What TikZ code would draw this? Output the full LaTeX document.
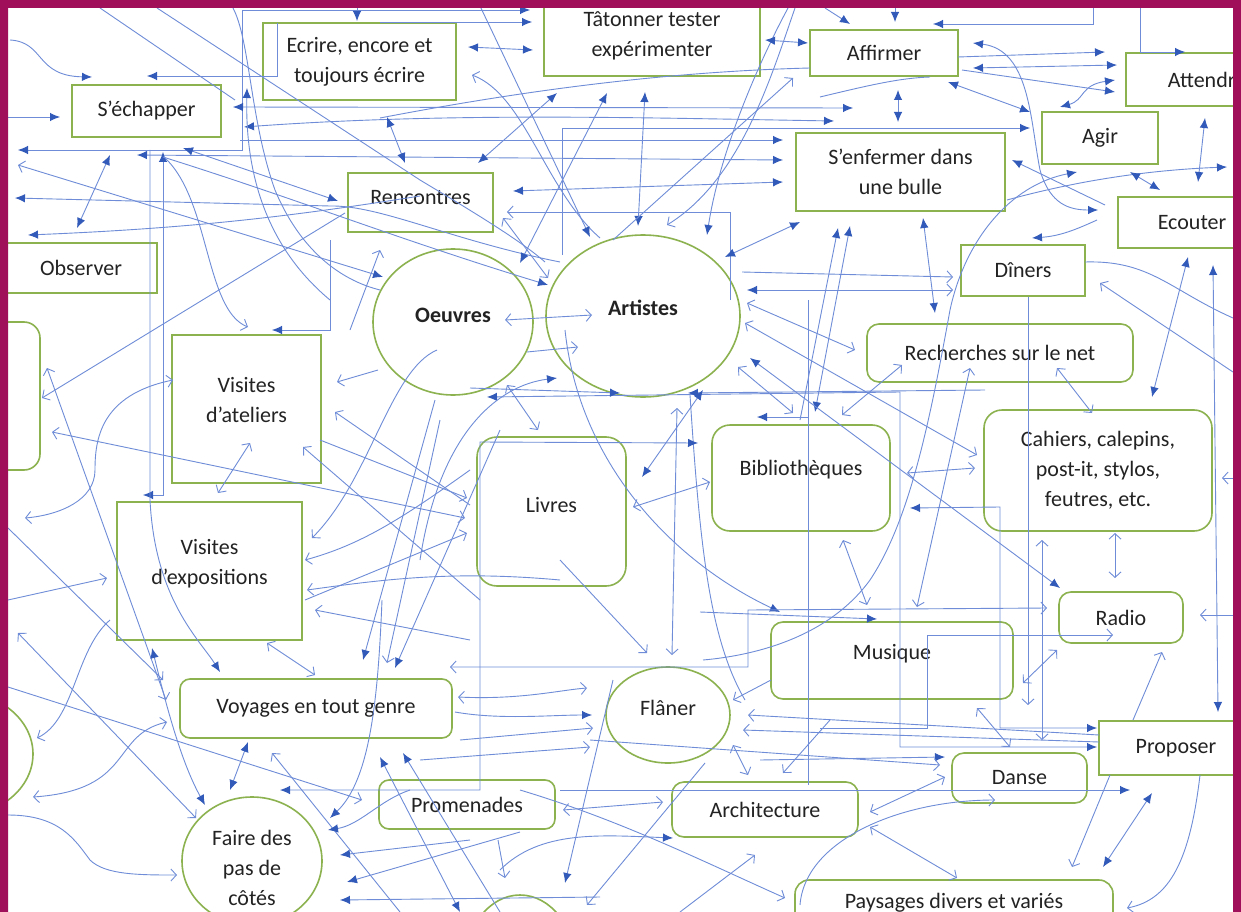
\documentclass[tikz,border=0pt]{standalone}
\usepackage{fontspec}
\setmainfont{Carlito}
\usetikzlibrary{arrows.meta,shapes.geometric}
\definecolor{frame}{RGB}{160,16,90}
\definecolor{gbox}{RGB}{140,178,80}
\definecolor{lb}{RGB}{110,140,215}
\definecolor{ab}{RGB}{50,90,185}
\definecolor{txt}{RGB}{35,35,35}
\newcommand\fs{\fontsize{22}{30}\selectfont}
\tikzset{
  box/.style={draw=gbox, line width=1.6pt, font=\fs, text=txt, align=center, inner sep=0pt},
  rbox/.style={box, rounded corners=#1}, rbox/.default=12pt,
  ell/.style={box, ellipse},
  lab/.style={font=\fs, text=txt, align=center, inner sep=0pt},
  cn/.style={draw=lb, line width=0.9pt},
  fa/.tip={Latex[length=10pt,width=8.5pt,color=ab]},
  oa/.tip={Straight Barb[length=5.5pt,width=12pt,color=lb]},
  cf/.style={cn,-fa}, cff/.style={cn,fa-fa}, co/.style={cn,-oa}, coo/.style={cn,oa-oa},
  cof/.style={cn,oa-fa}, cfo/.style={cn,fa-oa}, cl/.style={cn}
}
\begin{document}
\begin{tikzpicture}[x=1pt,y=-1pt]
\useasboundingbox (0,0) rectangle (1241,912);
\clip (0,0) rectangle (1241,912);
\fill[white] (0,0) rectangle (1241,912);
% nodes
\node[box,minimum width=193,minimum height=77] (ecrire) at (359.5,61.5) {Ecrire, encore et\\toujours écrire};
\node[box,minimum width=216,minimum height=80] (tat) at (652,36) {Tâtonner tester\\expérimenter};
\node[box,minimum width=148,minimum height=46] (aff) at (884,53) {Affirmer};
\node[box,minimum width=162,minimum height=53] (att) at (1207,79.5) {Attendre};
\node[box,minimum width=149,minimum height=52] (ech) at (146.5,111) {S’échapper};
\node[box,minimum width=116,minimum height=52] (agir) at (1100,138) {Agir};
\node[box,minimum width=209,minimum height=78] (enf) at (900.5,172) {S’enfermer dans\\une bulle};
\node[box,minimum width=145,minimum height=59,label={[lab,yshift=5pt]center:Rencontres}] (renc) at (420.5,202.5) {};
\node[box,minimum width=148,minimum height=51] (ecou) at (1192,222.5) {Ecouter};
\node[box,minimum width=152,minimum height=50] (obs) at (81,268) {Observer};
\node[box,minimum width=124,minimum height=51] (din) at (1023,270.5) {Dîners};
\node[ell,minimum width=160,minimum height=146,label={[lab,yshift=7pt]center:\textbf{Oeuvres}}] (oeu) at (453,322) {};
\node[ell,minimum width=194,minimum height=162,label={[lab,yshift=8pt]center:\textbf{Artistes}}] (art) at (643,316) {};
\node[rbox,minimum width=266,minimum height=58] (rech) at (1000,353) {Recherches sur le net};
\node[rbox=16pt,minimum width=90,minimum height=148] (left) at (-5,396) {};
\node[box,minimum width=149,minimum height=148,label={[lab,yshift=9pt]center:Visites\\d’ateliers}] (atel) at (246.5,409) {};
\node[box,minimum width=185,minimum height=138,label={[lab,yshift=7pt]center:Visites\\d’expositions}] (expo) at (209.5,571) {};
\node[rbox=20pt,minimum width=149,minimum height=149,label={[lab,yshift=6pt]center:Livres}] (livr) at (551.5,511.5) {};
\node[rbox=18pt,minimum width=178,minimum height=106,label={[lab,yshift=8pt]center:Bibliothèques}] (bibl) at (801,478) {};
\node[rbox=18pt,minimum width=228,minimum height=121] (cah) at (1098,470.5) {Cahiers, calepins,\\post-it, stylos,\\feutres, etc.};
\node[rbox,minimum width=124,minimum height=51] (radio) at (1121,617.5) {Radio};
\node[rbox,minimum width=242,minimum height=77,label={[lab,yshift=7pt]center:Musique}] (mus) at (892,660.5) {};
\node[ell,minimum width=124,minimum height=96,label={[lab,yshift=7pt]center:Flâner}] (fla) at (668,715) {};
\node[rbox=10pt,minimum width=272,minimum height=59] (voy) at (316,708.5) {Voyages en tout genre};
\node[box,minimum width=154,minimum height=54] (prop) at (1176,748) {Proposer};
\node[rbox,minimum width=135,minimum height=50] (danse) at (1019.5,778) {Danse};
\node[rbox=10pt,minimum width=176,minimum height=49] (prom) at (467,804.5) {Promenades};
\node[rbox,minimum width=186,minimum height=55] (arch) at (765,809.5) {Architecture};
\node[ell,minimum width=140,minimum height=128,label={[lab,yshift=-7pt]center:Faire des\\pas de\\côtés}] (faire) at (252,861) {};
\node[rbox=14pt,minimum width=318,minimum height=60,label={[lab,yshift=7pt]center:Paysages divers et variés}] (pays) at (954,910) {};
\node[ell,minimum width=110,minimum height=140] (bot) at (520,965) {};
\node[ell,minimum width=150,minimum height=124] (lcirc) at (-42,754) {};
% connectors, top
\draw[cff] (18,150) -- (242,150) -- (242,10) -- (530,10);
\draw[cf] (357,6) -- (357,21);
\draw[cf] (380,22) -- (532,22);
\draw[cff] (468,47) -- (533,50);
\draw[co] (600,238) .. controls (545,190) and (525,95) .. (472,75);
\draw[cf] (277,23) -- (277,76) -- (147,76);
\draw[cf] (10,40) .. controls (45,42) and (35,76) .. (92,77);
\draw[cf] (8,117) -- (60,117);
\draw[cff] (233,107) -- (853,108);
\draw[cff] (244,127) .. controls (450,112) and (650,118) .. (834,121);
\draw[cf] (562,255) -- (562,128) -- (1030,128);
\draw[cff] (110,155) -- (77,228);
\draw[cff] (183,148) -- (338,201);
\draw[cof] (18,165) -- (383,277);
\draw[cf] (560,262) .. controls (450,240) and (380,205) .. (330,206) -- (15,198);
\draw[cf] (420,196) .. controls (300,215) and (200,228) .. (28,235);
\draw[cff] (137,155) -- (783,160);
\draw[cff] (163,152) -- (163,495) -- (143,495);
\draw[cf] (150,150) -- (150,500) .. controls (155,600) and (200,640) .. (220,672);
\draw[co] (165,158) .. controls (210,200) and (205,310) .. (248,327);
\draw[cf] (330,240) -- (330,330) -- (272,330);
\draw[cf] (163,157) .. controls (300,200) and (400,240) .. (548,285);
\draw[cl] (100,8) -- (235,100);
\draw[cl] (157,8) -- (420,180) .. controls (470,210) and (520,240) .. (545,262);
\draw[cf] (330,300) .. controls (270,250) and (245,180) .. (247,88);
\draw[cl] (233,8) .. controls (250,40) and (250,120) .. (275,190) .. controls (300,250) and (340,280) .. (380,290);
\draw[co] (350,330) -- (380,250);
\draw[cff] (387,117) -- (405,163);
\draw[cff] (557,93) -- (478,163);
\draw[cff] (607,93) -- (520,263);
\draw[cff] (645,92) -- (638,226);
\draw[cf] (788,8) .. controls (760,60) and (720,150) .. (707,235);
\draw[co] (795,8) .. controls (770,80) and (740,180) .. (667,225);
\draw[co] (613,240) -- (793,78);
\draw[cff] (765,40) -- (808,43);
\draw[cl] (380,118) .. controls (500,95) and (650,72) .. (810,68);
\draw[cl] (820,97) .. controls (870,85) and (900,78) .. (930,77);
\draw[cf] (825,8) -- (850,24);
\draw[cf] (895,6) -- (895,22);
\draw[cf] (1093,6) -- (1093,24) -- (933,24);
\draw[cf] (1140,6) -- (1140,52) -- (1185,52);
\draw[cff] (973,43) .. controls (1030,50) and (1030,120) .. (1040,170) .. controls (1050,205) and (1070,210) .. (1098,210);
\draw[cf] (958,57) -- (1105,52);
\draw[cff] (973,68) -- (1117,65);
\draw[cf] (962,70) -- (1115,92);
\draw[cff] (1060,107) .. controls (1085,100) and (1080,85) .. (1115,80);
\draw[cff] (948,82) -- (1030,112);
\draw[cff] (898,90) -- (898,122);
\draw[cf] (240,140) -- (783,140);
\draw[cff] (513,191) -- (783,182);
\draw[co] (730,300) -- (730,212) -- (507,212);
\draw[coo] (503,218) -- (548,278);
\draw[cff] (725,257) -- (800,222);
\draw[cfo] (747,290) -- (953,290);
\draw[co] (742,272) -- (953,277);
\draw[cf] (1105,205) -- (1012,160);
\draw[cf] (703,660) .. controls (760,655) and (830,635) .. (870,580) .. controls (910,520) and (930,420) .. (950,310) .. controls (965,240) and (1010,185) .. (1077,172);
\draw[cf] (1007,200) .. controls (1080,180) and (1150,170) .. (1227,167);
\draw[cff] (1130,172) -- (1160,190);
\draw[cff] (1205,118) -- (1198,182);
\draw[cf] (1097,220) .. controls (1075,230) and (1060,236) .. (1032,238);
\draw[cff] (1213,265) -- (1218,712);
\draw[cff] (1188,257) -- (1152,397);
\draw[cl] (1085,262) .. controls (1150,260) and (1170,290) .. (1233,318);
\draw[co] (1233,372) -- (1100,283);
\draw[cf] (800,420) -- (838,228);
\draw[cff] (850,226) -- (815,412);
\draw[cf] (808,417) -- (757,417);
\draw[cff] (923,218) -- (935,313);
% middle
\draw[cff] (487,397) -- (900,392) -- (900,747) -- (1097,747);
\draw[cf] (470,388) -- (620,393);
\draw[cf] (985,390) -- (688,393);
\draw[coo] (505,320) -- (592,315);
\draw[co] (527,352) -- (578,347);
\draw[co] (437,350) .. controls (390,370) and (370,480) .. (312,538);
\draw[cf] (420,560) .. controls (440,430) and (500,385) .. (557,378);
\draw[coo] (507,385) -- (538,430);
\draw[coo] (633,507) -- (710,482);
\draw[cff] (703,390) -- (642,477);
\draw[cf] (480,6) -- (590,237);
\draw[cf] (565,330) .. controls (580,470) and (680,565) .. (780,612);
\draw[cl] (690,395) .. controls (700,550) and (710,640) .. (745,700);
\draw[cf] (700,612) -- (877,619);
\draw[co] (560,560) -- (647,653);
\draw[coo] (677,408) -- (672,655);
\draw[coo] (745,323) -- (977,455);
\draw[cff] (750,358) -- (1060,588);
\draw[coo] (747,303) -- (855,350);
\draw[coo] (738,367) -- (793,413);
\draw[cl] (808,300) -- (808,785);
\draw[cff] (280,790) -- (480,790) -- (480,442) -- (698,443);
\draw[co] (320,440) -- (467,498);
\draw[co] (305,600) -- (467,533);
% left
\draw[coo] (47,368) -- (166,700);
\draw[co] (345,213) -- (42,398);
\draw[coo] (52,432) -- (465,518);
\draw[coo] (173,380) .. controls (100,395) and (95,440) .. (95,470) .. controls (95,500) and (60,515) .. (25,518);
\draw[coo] (250,443) -- (218,493);
\draw[co] (378,370) -- (337,382);
\draw[co] (470,505) -- (335,412);
\draw[co] (480,600) -- (303,447);
\draw[co] (470,470) .. controls (400,520) and (360,545) .. (305,560);
\draw[co] (560,580) .. controls (450,570) and (380,580) .. (307,590);
\draw[co] (470,640) -- (315,610);
\draw[co] (8,600) -- (107,578);
\draw[co] (8,528) -- (163,680);
\draw[coo] (18,633) -- (196,818);
\draw[co] (110,620) .. controls (75,650) and (75,720) .. (37,738);
\draw[co] (8,687) -- (362,800);
\draw[coo] (167,722) .. controls (110,735) and (135,790) .. (33,797);
\draw[co] (8,815) .. controls (60,815) and (75,840) .. (90,860) .. controls (105,875) and (140,875) .. (177,875);
\draw[cff] (152,648) .. controls (165,700) and (180,760) .. (205,805);
\draw[coo] (267,643) -- (315,675);
\draw[cf] (435,400) -- (363,660);
\draw[co] (440,420) -- (387,663);
\draw[cf] (500,430) -- (395,668);
\draw[cff] (248,742) -- (230,790);
\draw[co] (400,912) -- (272,753);
\draw[cf] (382,600) .. controls (378,700) and (370,780) .. (330,818);
\draw[cf] (410,790) .. controls (380,800) and (360,825) .. (328,830);
\draw[cf] (470,840) -- (340,855);
\draw[cf] (520,832) -- (347,882);
\draw[cf] (600,897) -- (340,900);
\draw[cff] (380,757) -- (460,912);
\draw[cf] (500,912) -- (403,753);
% lower middle / right
\draw[coo] (450,667) -- (748,667) -- (748,610) -- (1047,608);
\draw[cff] (910,508) -- (1000,507) -- (1000,728) -- (1097,728);
\draw[co] (1028,297) -- (1028,705);
\draw[coo] (1042,540) -- (1042,740);
\draw[coo] (1057,650) -- (1023,683);
\draw[coo] (977,708) -- (1010,747);
\draw[co] (1133,720) -- (1162,652);
\draw[co] (1233,615) -- (1200,615);
\draw[co] (820,728) -- (927,728) -- (927,635) -- (1113,635);
\draw[cf] (760,760) -- (945,757);
\draw[co] (590,740) -- (940,765);
\draw[cf] (560,790) -- (1130,790);
\draw[cff] (1152,793) -- (1103,867);
\draw[co] (1110,775) -- (1072,867);
\draw[co] (1200,775) .. controls (1190,860) and (1170,900) .. (1127,908);
\draw[coo] (870,812) -- (945,777);
\draw[coo] (870,827) -- (957,878);
\draw[co] (800,905) .. controls (805,840) and (900,800) .. (995,800);
\draw[coo] (902,365) -- (842,415);
\draw[coo] (970,368) -- (917,607);
\draw[coo] (1057,368) -- (1092,413);
\draw[coo] (907,473) -- (975,468);
\draw[coo] (1115,533) -- (1115,578);
\draw[co] (1240,478) -- (1222,478);
\draw[coo] (843,540) -- (867,605);
\draw[coo] (458,697) .. controls (520,700) and (560,690) .. (587,688);
\draw[cf] (455,712) .. controls (500,720) and (550,715) .. (592,715);
\draw[co] (460,740) -- (593,728);
\draw[co] (420,760) -- (590,747);
\draw[co] (771,680) -- (733,700);
\draw[co] (1099,735) -- (748,715);
\draw[co] (1099,742) -- (743,730);
\draw[coo] (733,745) -- (748,775);
\draw[co] (830,720) -- (783,773);
\draw[coo] (563,810) -- (663,802);
\draw[cf] (500,870) .. controls (540,830) and (600,835) .. (673,838);
\draw[cf] (613,680) -- (565,883);
\draw[co] (705,763) -- (587,905);
\draw[co] (498,840) -- (505,878);
\draw[co] (520,790) .. controls (620,820) and (700,860) .. (785,898);
\draw[co] (680,912) -- (755,855);
% frame
\fill[frame, even odd rule] (0,0) rectangle (1241,912) (8,8) rectangle (1233,915);
\end{tikzpicture}
\end{document}
